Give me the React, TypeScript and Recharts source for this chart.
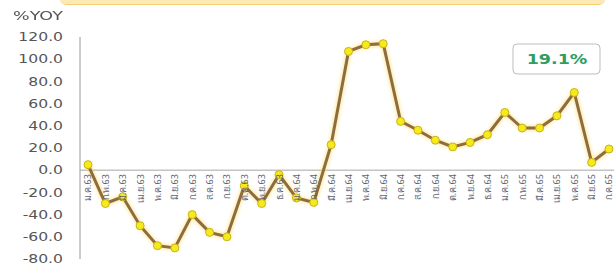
import { LineChart, Line, XAxis, YAxis, ReferenceLine, LabelList } from "recharts";

const months = [
  "ม.ค.63", "ก.พ.63", "มี.ค.63", "เม.ย.63", "พ.ค.63", "มิ.ย.63",
  "ก.ค.63", "ส.ค.63", "ก.ย.63", "ต.ค.63", "พ.ย.63", "ธ.ค.63",
  "ม.ค.64", "ก.พ.64", "มี.ค.64", "เม.ย.64", "พ.ค.64", "มิ.ย.64",
  "ก.ค.64", "ส.ค.64", "ก.ย.64", "ต.ค.64", "พ.ย.64", "ธ.ค.64",
  "ม.ค.65", "ก.พ.65", "มี.ค.65", "เม.ย.65", "พ.ค.65", "มิ.ย.65", "ก.ค.65",
];

const yoy = [
  5, -30, -24, -50, -68, -70, -40, -56, -60, -14, -30, -4,
  -25, -29, 23, 107, 113, 114, 44, 36, 27, 21, 25, 32,
  52, 38, 38, 49, 70, 7, 19.1,
];

const yTicks = [-80, -60, -40, -20, 0, 20, 40, 60, 80, 100, 120];

const data = months.map((m, i) => ({ month: m, yoy: yoy[i], base: 0 }));
const lastIdx = yoy.length - 1;

function YTick(props: any) {
  const { x, y, payload } = props;
  return (
    <g transform={`translate(${x},${y})`}>
      <text
        textAnchor="end"
        dy="0.35em"
        transform="scale(1.3,1)"
        fill="#555"
        fontSize={12}
        fontFamily="DejaVu Sans, sans-serif"
      >
        {Number(payload.value).toFixed(1)}
      </text>
    </g>
  );
}

// month names sit on the zero line, rotated
function MonthLabel(props: any) {
  const { x, y, index } = props;
  return (
    <text
      x={x}
      y={y + 4}
      transform={`rotate(-90, ${x}, ${y + 4})`}
      textAnchor="end"
      dominantBaseline="central"
      fill="#5d6372"
      fontSize={9}
      fontFamily="Noto Sans, DejaVu Sans, sans-serif"
    >
      {months[index]}
    </text>
  );
}

function LastValue(props: any) {
  const { x, y, index, value } = props;
  if (index !== lastIdx) return null;
  return (
    <g>
      <rect x={x - 96} y={y - 105} width={87} height={30} rx={4} fill="#fff" stroke="#bdbdbd" />
      <g transform={`translate(${x - 52},${y - 90})`}>
        <text
          textAnchor="middle"
          dy="0.35em"
          transform="scale(1.25,1)"
          fill="#2e9e62"
          fontSize={14}
          fontWeight="bold"
          fontFamily="DejaVu Sans, sans-serif"
        >
          {`${value}%`}
        </text>
      </g>
    </g>
  );
}

export default function App() {
  return (
    <div style={{ position: "absolute", top: 0, left: 0, width: 614, height: 265, background: "#fff", overflow: "hidden" }}>
      <style>{`.yoy .recharts-line-curve{filter:drop-shadow(0 0 2px #ffd95a)}`}</style>
      <div
        style={{
          position: "absolute",
          left: 60,
          top: -8,
          width: 545,
          height: 12,
          borderRadius: 8,
          background: "#fde9b3",
          borderBottom: "1px solid #f5cf72",
        }}
      />
      <div
        style={{
          position: "absolute",
          left: 13,
          top: 8,
          fontFamily: "DejaVu Sans, sans-serif",
          fontSize: 12.5,
          color: "#555",
          transform: "scaleX(1.4)",
          transformOrigin: "left top",
        }}
      >
        %YOY
      </div>
      <LineChart
        className="yoy"
        width={614}
        height={265}
        data={data}
        margin={{ top: 37, right: 0, bottom: 6, left: 0 }}
      >
        <XAxis dataKey="month" hide padding={{ left: 8, right: 5 }} />
        <YAxis
          width={80}
          domain={[-80, 120]}
          ticks={yTicks}
          interval={0}
          tickLine={false}
          tickSize={6}
          tickMargin={11}
          axisLine={{ stroke: "#9a9a9a" }}
          tick={<YTick />}
        />
        <ReferenceLine y={0} stroke="#c4c4c4" strokeWidth={1.5} />
        <Line
          dataKey="base"
          stroke="none"
          dot={false}
          activeDot={false}
          isAnimationActive={false}
        >
          <LabelList dataKey="base" content={<MonthLabel />} />
        </Line>
        <Line
          dataKey="yoy"
          type="linear"
          stroke="#8f6c3e"
          strokeWidth={3}
          dot={{ r: 4, fill: "#f4ea1c", stroke: "#c9b21a", strokeWidth: 1 }}
          activeDot={false}
          isAnimationActive={false}
        >
          <LabelList dataKey="yoy" content={<LastValue />} />
        </Line>
      </LineChart>
    </div>
  );
}
